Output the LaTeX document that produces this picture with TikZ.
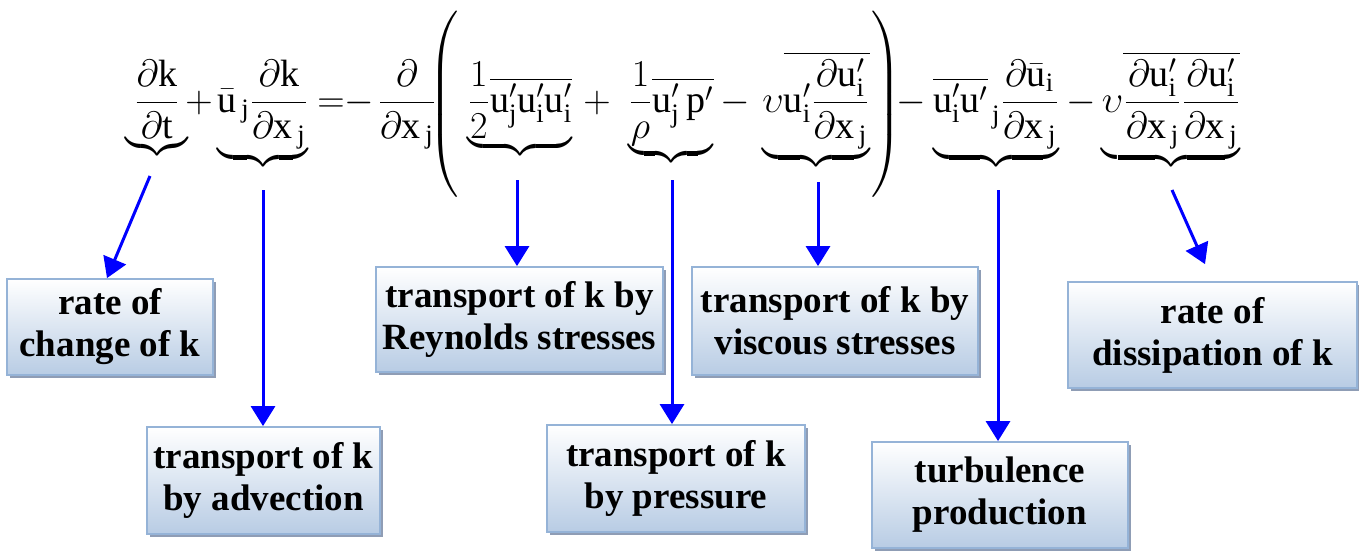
\RequirePackage{fix-cm}
\documentclass[tikz,border=0pt]{standalone}
\usepackage{amsmath}
\usepackage{fontspec}
\setmainfont{Liberation Serif}
\usepackage{tikz}
\usetikzlibrary{arrows.meta, shadows}

\definecolor{boxline}{RGB}{149,179,215}
\definecolor{boxbottom}{RGB}{184,204,228}
\definecolor{boxshadow}{RGB}{143,157,181}
\definecolor{arrowblue}{RGB}{0,0,255}

\newcommand{\pdr}{\partial}
\newcommand{\sbj}{_{\mkern3mu\mathrm{j}}}
\newcommand{\xj}{\mathrm{x}\sbj}
\newcommand{\ui}{\mathrm{u}'_{\mathrm{i}}}
\newcommand{\uj}{\mathrm{u}'_{\mathrm{j}}}

\begin{document}
\begin{tikzpicture}[x=0.5pt, y=-0.5pt,
            eqterm/.style={anchor=base, inner sep=0pt,
                    font=\fontsize{19}{22}\selectfont},
            termbox/.style={draw=boxline, line width=0.9pt,
                    top color=white, bottom color=boxbottom,
                    drop shadow={shadow xshift=1.6pt, shadow yshift=-1.6pt,
                            opacity=1, fill=boxshadow},
                    align=center, inner sep=0pt,
                    font=\fontsize{18.5}{21}\selectfont\bfseries},
            arr/.style={-{Triangle[length=10pt, width=12pt]}, line width=1.5pt,
                    color=arrowblue}
        ]
        \useasboundingbox (0,0) rectangle (1359,552);

        % ---------------------------------------------------------------
        % EQUATION (one node per term, all on one baseline)
        % ---------------------------------------------------------------
        \node[eqterm] (dkdt) at (157,112)
            {$\displaystyle\underbrace{\frac{\pdr\mathrm{k}}{\pdr\mathrm{t}}}$};
        \node[eqterm] (plusa) at (199,112) {$+$};
        \node[eqterm] (advterm) at (263,112)
            {$\displaystyle\underbrace{\bar{\mathrm{u}}\sbj\frac{\pdr\mathrm{k}}{\pdr\xj}}$};
        \node[eqterm] (eqsign) at (331,112) {$=$};
        \node[eqterm] (minusa) at (359,112) {$-$};
        \node[eqterm] (ddx) at (407,112) {$\displaystyle\frac{\pdr}{\pdr\xj}$};
        \node[eqterm] (lparen) at (445,114) {$\left(\vrule height 51.75pt depth 42.25pt width 0pt\right.$};
        \node[eqterm] (reynterm) at (520,112)
            {$\displaystyle\underbrace{\frac{1}{2}\overline{\uj\ui\ui}}$};
        \node[eqterm] (plusb) at (597,112) {$+$};
        \node[eqterm] (presterm) at (671,112)
            {$\displaystyle\underbrace{\frac{1}{\rho}\overline{\uj\,\mathrm{p}'}}$};
        \node[eqterm] (minusb) at (735,112) {$-$};
        \node[eqterm] (viscterm) at (816,112)
            {$\displaystyle\underbrace{\upsilon\overline{\ui\frac{\pdr\ui}{\pdr\xj}}}$};
        \node[eqterm] (rparen) at (885,114) {$\left.\vrule height 51.75pt depth 42.25pt width 0pt\right)$};
        \node[eqterm] (minusc) at (911,112) {$-$};
        \node[eqterm] (turbterm) at (996,112)
            {$\displaystyle\underbrace{\overline{\ui\mathrm{u}'}\sbj\frac{\pdr\bar{\mathrm{u}}_{\mathrm{i}}}{\pdr\xj}}$};
        \node[eqterm] (minusd) at (1081,112) {$-$};
        \node[eqterm] (dissterm) at (1171,112)
            {$\displaystyle\underbrace{\upsilon\overline{\frac{\pdr\ui}{\pdr\xj}\frac{\pdr\ui}{\pdr\xj}}}$};

        % ---------------------------------------------------------------
        % TERM BOXES
        % ---------------------------------------------------------------
        \node[termbox, minimum width=103pt, minimum height=48pt] (change) at (110,327)
            {rate of\\change of k};
        \node[termbox, minimum width=116.5pt, minimum height=53.5pt] (advection) at (263.5,480.5)
            {transport of k\\by advection};
        \node[termbox, minimum width=143.5pt, minimum height=52.5pt] (reynolds) at (519.5,319.5)
            {transport of k by\\Reynolds stresses};
        \node[termbox, minimum width=129pt, minimum height=53.5pt] (pressure) at (676,478.5)
            {transport of k\\by pressure};
        \node[termbox, minimum width=143pt, minimum height=54pt] (viscous) at (835,321)
            {transport of k by\\viscous stresses};
        \node[termbox, minimum width=128pt, minimum height=53pt] (turbulence) at (1000,495)
            {turbulence\\production};
        \node[termbox, minimum width=144.5pt, minimum height=53pt] (dissipation) at (1212.5,335)
            {rate of\\dissipation of k};

        % brace tips
        \coordinate (bchange) at (150,176);
        \coordinate (badv) at (263,190);
        \coordinate (breyn) at (517,180);
        \coordinate (bpres) at (672,180);
        \coordinate (bvisc) at (818,182);
        \coordinate (bturb) at (998,190);
        \coordinate (bdiss) at (1172,190);

        % Arrows
        \draw[arr] (bchange) -- ([xshift=-1.5pt]change.north);
        \draw[arr] (badv) -- (badv |- advection.north);
        \draw[arr] (breyn) -- (breyn |- reynolds.north);
        \draw[arr] (bpres) -- (bpres |- pressure.north);
        \draw[arr] (bvisc) -- (bvisc |- viscous.north);
        \draw[arr] (bturb) -- (bturb |- turbulence.north);
        \draw[arr] (bdiss) -- ([xshift=-3.75pt,yshift=8.5pt]dissipation.north);

    \end{tikzpicture}
\end{document}
